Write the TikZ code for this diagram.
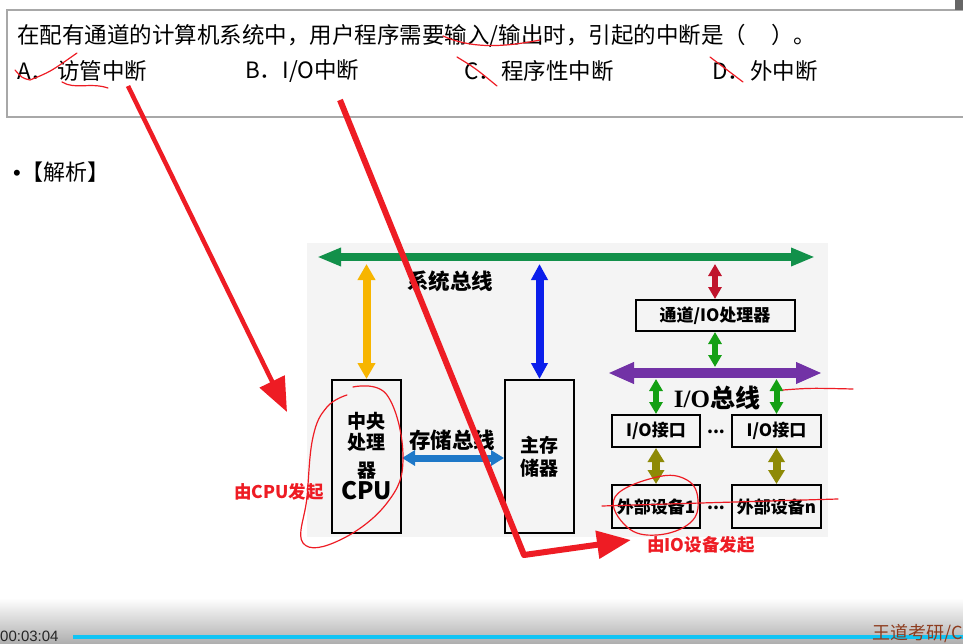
\documentclass[tikz,border=0pt]{standalone}
\usepackage{fontspec}
\setmainfont{Noto Sans CJK SC}
\newfontfamily\timesio{Liberation Serif}
\newfontfamily\clockfont{Liberation Sans}
\usetikzlibrary{arrows.meta}
\definecolor{busgreen}{HTML}{12904A}
\definecolor{cpuyellow}{HTML}{F7B500}
\definecolor{memblue}{HTML}{0A1EEB}
\definecolor{storeblue}{HTML}{1E78C8}
\definecolor{chanred}{HTML}{C0142C}
\definecolor{iogreen}{HTML}{14A014}
\definecolor{iopurple}{HTML}{7232A6}
\definecolor{devolive}{HTML}{8E8A06}
\definecolor{penred}{HTML}{EE1C24}
\definecolor{boxline}{HTML}{A8A8A8}
\definecolor{diagbg}{HTML}{F4F4F4}
\definecolor{barcyan}{HTML}{10C4F4}
\definecolor{logobrown}{HTML}{8E3C1E}

\begin{document}
\begin{tikzpicture}[
		x=1pt, y=-1pt,
		box/.style={draw, line width=2pt, inner sep=0pt, align=center, font=\bfseries\fontsize{17}{20}\selectfont},
		bigbox/.style={box, minimum width=69pt, minimum height=153pt, font=\bfseries\fontsize{19}{21}\selectfont},
		lbl/.style={inner sep=0pt, font=\bfseries\fontsize{21.5}{24}\selectfont},
		dbl/.style n args={3}{line width=#1, {Triangle[length=#2,width=#3]}-{Triangle[length=#2,width=#3]}},
		qtext/.style={anchor=west, inner sep=0pt, font=\fontsize{22.5}{26}\selectfont},
		note/.style={inner sep=0pt, text=penred, font=\bfseries\fontsize{17.5}{20}\selectfont},
		pen/.style={penred, line width=1.2pt, line cap=round, line join=round},
		bigpen/.style={penred, line width=#1, line join=round, -{Triangle[length=34pt,width=27pt]}}
	]
		\useasboundingbox (0,0) rectangle (963,644);
		\fill[white] (0,0) rectangle (963,644);
		
		% question box
		\draw[boxline, line width=1.5pt] (7,10) rectangle (975,117);
		\fill[black!60] (955,0) rectangle (963,10);
		\node[qtext] (q) at (17,36) {在配有通道的计算机系统中，用户程序需要输入/输出时，引起的中断是（\hspace{25pt}）。};
		\node[qtext] (optA) at (17,71) {A．\hspace{4pt}访管中断};
		\node[qtext] (optB) at (245,71) {B．I/O中断};
		\node[qtext] (optC) at (464,71) {C．程序性中断};
		\node[qtext] (optD) at (712,71) {D．外中断};
		\node[qtext, font=\fontsize{22}{24}\selectfont] (jiexi) at (13,172) {{\clockfont\textbullet}\hspace{1pt}【解析】};
		
		% diagram
		\fill[diagbg] (307,243) rectangle (828,537);
		\node[bigbox] (cpu) at (366.5,456.5) {中央\\处理\\[7pt]器\\[1pt]{\fontsize{24}{26}\selectfont CPU}};
		\node[bigbox] (mem) at (539.5,456.5) {主存\\[2pt]储器};
		\node[box, minimum width=159pt, minimum height=31pt] (chan) at (715,315.5) {通道/IO处理器};
		\node[box, minimum width=88pt, minimum height=32pt] (ifa) at (656,431) {I/O接口};
		\node[box, minimum width=89pt, minimum height=32pt] (ifb) at (776.5,431) {I/O接口};
		\node[box, minimum width=88pt, minimum height=43pt] (deva) at (656,506.5) {外部设备1};
		\node[box, minimum width=89pt, minimum height=43pt] (devb) at (776.5,506.5) {外部设备n};
		\node[inner sep=0pt, font=\bfseries\fontsize{17}{20}\selectfont] (dotsa) at (716,432) {...};
		\node[inner sep=0pt, font=\bfseries\fontsize{17}{20}\selectfont] (dotsb) at (716,508) {...};
		
		% buses
		\coordinate (sysL) at (317,257);
		\coordinate (sysR) at (815,257);
		\coordinate (sysBot) at (0,264);
		\coordinate (ioL) at (608,373);
		\coordinate (ioR) at (822,373);
		\coordinate (ioTop) at (0,367);
		\coordinate (ioBot) at (0,379);
		\coordinate (storeY) at (0,458);
		\draw[dbl={8pt}{24pt}{17pt}, busgreen] (sysL) -- (sysR);
		\draw[dbl={10pt}{26pt}{20pt}, iopurple] (ioL) -- (ioR);
		\draw[dbl={8pt}{16pt}{17pt}, cpuyellow] (cpu.north |- sysBot) -- (cpu.north);
		\draw[dbl={8pt}{16pt}{16pt}, memblue] (mem.north |- sysBot) -- (mem.north);
		\draw[dbl={6pt}{12pt}{13pt}, chanred] (chan.north |- sysBot) -- (chan.north);
		\draw[dbl={6pt}{12pt}{13pt}, iogreen] (chan.south) -- (chan.south |- ioTop);
		\draw[dbl={6pt}{12pt}{13pt}, iogreen] (ifa.north |- ioBot) -- (ifa.north);
		\draw[dbl={6pt}{12pt}{13pt}, iogreen] (ifb.north |- ioBot) -- (ifb.north);
		\draw[dbl={8pt}{14pt}{16pt}, devolive] (ifa.south) -- (deva.north);
		\draw[dbl={8pt}{14pt}{16pt}, devolive] (ifb.south) -- (devb.north);
		\draw[dbl={7pt}{13pt}{15pt}, storeblue] (cpu.east |- storeY) -- (mem.west |- storeY);
		\node[lbl] (sysbus) at (450,281) {系统总线};
		\node[lbl] (storebus) at (452,440) {存储总线};
		\node[lbl, font=\bfseries\fontsize{25}{28}\selectfont] (iobus) at (717,398) {{\timesio I/O}总线};
		
		% red pen marks
		\draw[pen] (15,70) .. controls (22,78) .. (30,80) .. controls (50,72) .. (77,53);
		\draw[pen] (62,82) .. controls (75,90) and (90,82) .. (108,88);
		\draw[pen] (443,36) .. controls (470,48) and (500,48) .. (540,40);
		\draw[pen] (457,57) .. controls (475,68) .. (497,86);
		\draw[pen] (710,57) -- (743,82);
		\draw[pen] plot[smooth, tension=0.7] coordinates {(353,387) (387,395) (403,457) (387,503) (340,540) (303,543) (307,497) (313,437) (327,407) (347,395)};
		\draw[pen] plot[smooth cycle, tension=0.7] coordinates {(657,477) (687,480) (698,500) (690,523) (657,535) (627,527) (615,497)};
		\draw[pen] (602,506) .. controls (700,503) .. (838,499);
		\draw[pen] (783,390) .. controls (810,388) .. (853,389);
		\coordinate (penA1) at (128,86);
		\coordinate (penA2) at (287,412);
		\coordinate (penB1) at (340,100);
		\coordinate (penB2) at (524,555);
		\coordinate (penB3) at (631,540);
		\draw[bigpen=4.5pt] (penA1) -- (penA2);
		\draw[bigpen=6pt] (penB1) -- (penB2) -- (penB3);
		\node[note] (cpunote) at (279,492) {由CPU发起};
		\node[note] (ionote) at (701,545) {由IO设备发起};
		
		% player bar
		\shade[top color=white, bottom color=black!32] (0,598) rectangle (963,644);
		\coordinate (barL) at (73,637);
		\coordinate (barR) at (963,637);
		\draw[barcyan, line width=4pt] (barL) -- (barR);
		\node[anchor=west, inner sep=0pt, text=black!85, font=\clockfont\fontsize{15}{17}\selectfont] (clock) at (0,636) {00:03:04};
		\node[anchor=west, inner sep=0pt, text=logobrown, font=\fontsize{18}{20}\selectfont] (logo) at (872,634) {王道考研/C};
	\end{tikzpicture}
\end{document}
